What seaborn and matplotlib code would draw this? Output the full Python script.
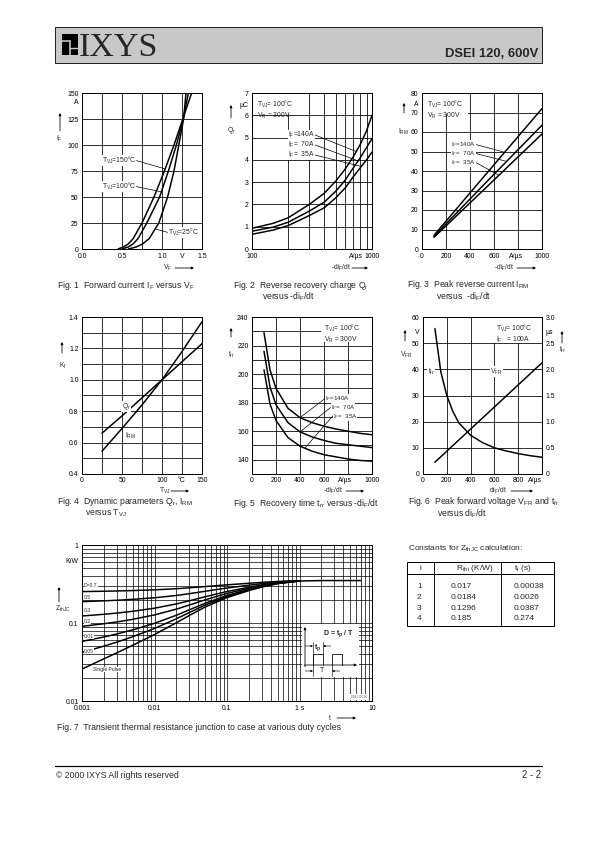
import numpy as np
import pandas as pd
import matplotlib
matplotlib.use("Agg")
import matplotlib.pyplot as plt
import seaborn as sns
from matplotlib.patches import Rectangle, FancyArrowPatch
from matplotlib.ticker import NullLocator

# ---------------- data ----------------
# Fig.1 forward current vs forward voltage
IF_LEVELS = [0, 2, 5, 10, 25, 50, 75, 100, 125, 150]
VF_150C = [0.45, 0.52, 0.58, 0.64, 0.75, 0.90, 1.03, 1.15, 1.26, 1.37]
VF_100C = [0.50, 0.58, 0.64, 0.70, 0.81, 0.97, 1.08, 1.18, 1.265, 1.33]
VF_25C = [0.58, 0.68, 0.76, 0.84, 0.96, 1.07, 1.15, 1.21, 1.27, 1.30]

# Fig.2 reverse recovery charge
DIDT2 = [100, 150, 200, 300, 400, 500, 600, 700, 800, 900, 1000]
QR_140 = [0.93, 1.15, 1.40, 2.00, 2.50, 3.05, 3.60, 4.15, 4.70, 5.30, 6.00]
QR_70 = [0.80, 0.98, 1.20, 1.70, 2.10, 2.60, 3.10, 3.65, 4.10, 4.55, 4.95]
QR_35 = [0.66, 0.85, 1.05, 1.50, 1.85, 2.30, 2.75, 3.25, 3.65, 4.00, 4.35]

# Fig.3 peak reverse current
DIDT3 = [100, 500, 1000]
IRM_140 = [7.0, 36.0, 72.0]
IRM_70 = [6.5, 32.0, 63.5]
IRM_35 = [6.0, 29.5, 59.0]

# Fig.4 dynamic parameters vs junction temperature
TVJ = [25, 50, 75, 100, 125, 150]
K_QR = [0.66, 0.77, 0.885, 1.0, 1.115, 1.23]
K_IRM = [0.545, 0.69, 0.84, 1.0, 1.18, 1.37]

# Fig.5 recovery time
DIDT5 = [100, 150, 200, 300, 400, 500, 600, 700, 800, 900, 1000]
TRR_140 = [229, 203, 190, 176, 169.5, 166, 163.5, 161.5, 160, 158.5, 157.5]
TRR_70 = [216, 191, 178.5, 166, 159.5, 156, 153.5, 151.5, 150.5, 149.5, 148.5]
TRR_35 = [203, 179, 167.5, 155.5, 149.5, 146, 143.5, 142, 140.5, 139.5, 139]

# Fig.6 peak forward voltage and forward recovery time
DIDT6_VFR = [100, 1000]
VFR = [4.5, 42.5]
DIDT6_TFR = [100, 150, 200, 250, 300, 400, 500, 600, 700, 800, 900, 1000]
TFR = [2.78, 1.95, 1.50, 1.20, 0.98, 0.74, 0.60, 0.50, 0.44, 0.39, 0.35, 0.32]

# Fig.7 transient thermal impedance
T_PULSE = [0.001, 0.002, 0.003, 0.005, 0.01, 0.02, 0.03, 0.05, 0.1, 0.2, 0.3, 0.5, 1.0]
T_SINGLE = [0.001, 0.002, 0.003, 0.005, 0.01, 0.02, 0.03, 0.05, 0.1, 0.2, 0.3, 0.5, 1.0, 2.0, 4.0, 7.0]
Z_SINGLE = [0.0257, 0.0347, 0.0413, 0.0518, 0.0712, 0.1007, 0.1245, 0.1603, 0.2118, 0.2601, 0.2881, 0.3202, 0.3452, 0.35, 0.35, 0.35]
Z_D07 = [0.2527, 0.2554, 0.2574, 0.2605, 0.2664, 0.2752, 0.2824, 0.2931, 0.3085, 0.3230, 0.3314, 0.3411, 0.3486]
Z_D05 = [0.1879, 0.1924, 0.1957, 0.2009, 0.2106, 0.2254, 0.2373, 0.2552, 0.2809, 0.3051, 0.3191, 0.3351, 0.3476]
Z_D03 = [0.1230, 0.1293, 0.1339, 0.1413, 0.1548, 0.1755, 0.1922, 0.2172, 0.2533, 0.2871, 0.3067, 0.3291, 0.3466]
Z_D02 = [0.0906, 0.0978, 0.1030, 0.1114, 0.1270, 0.1506, 0.1696, 0.1982, 0.2394, 0.2781, 0.3005, 0.3262, 0.3462]
Z_D01 = [0.0581, 0.0662, 0.0722, 0.0816, 0.0991, 0.1256, 0.1471, 0.1793, 0.2256, 0.2691, 0.2943, 0.3232, 0.3457]
Z_D005 = [0.0419, 0.0505, 0.0567, 0.0667, 0.0851, 0.1132, 0.1358, 0.1698, 0.2187, 0.2646, 0.2912, 0.3217, 0.3454]

# Table of constants
TBL_I = ["1", "2", "3", "4"]
TBL_R = ["0.017", "0.0184", "0.1296", "0.185"]
TBL_T = ["0.00038", "0.0026", "0.0387", "0.274"]

# ---------------- setup ----------------
W, H, DPI = 595, 842, 72
sns.set_theme(style="white")
plt.rcParams["font.family"] = ["Liberation Sans", "DejaVu Sans"]
plt.rcParams["mathtext.fontset"] = "custom"
plt.rcParams["mathtext.rm"] = "Liberation Sans"
plt.rcParams["mathtext.it"] = "Liberation Sans"
plt.rcParams["mathtext.bf"] = "Liberation Sans:bold"
plt.rcParams["mathtext.default"] = "regular"
plt.rcParams["axes.axisbelow"] = True

fig = plt.figure(figsize=(W / DPI, H / DPI), dpi=DPI)
fig.patch.set_facecolor("white")

TICK = 6.9
TXT = 6.8
PTXT = 6.3
CAP = 8.6
TAB = 8.4
LW = 1.5


def fx(x):
    return x / W


def fy(y):
    return 1 - y / H


def add_ax(l, t, r, b):
    ax = fig.add_axes([fx(l), fy(b), (r - l) / W, (b - t) / H])
    ax.set_facecolor("white")
    for s in ax.spines.values():
        s.set_color("black")
        s.set_linewidth(1.0)
    return ax


def finish(ax):
    ax.tick_params(which="both", length=0, labelsize=TICK, pad=3.5, colors="black")
    ax.grid(True, which="major", color="black", linewidth=0.8)
    ax.grid(False, which="minor")
    ax.set_xlabel("")
    ax.set_ylabel("")


def xt(ax, pos, labels, upos=None, ulab=None):
    ax.set_xticks(pos, labels=labels)
    if upos is None:
        ax.xaxis.set_minor_locator(NullLocator())
    else:
        ax.set_xticks([upos], labels=[ulab], minor=True)


def yt(ax, pos, labels, upos=None, ulab=None):
    ax.set_yticks(pos, labels=labels)
    if upos is None:
        ax.yaxis.set_minor_locator(NullLocator())
    else:
        ax.set_yticks([upos], labels=[ulab], minor=True)


def draw_curves(ax, xs, ys, names, lw=LW):
    frames = [pd.DataFrame({"x": x, "y": y, "s": n}) for x, y, n in zip(xs, ys, names)]
    df = pd.concat(frames, ignore_index=True)
    sns.lineplot(data=df, x="x", y="y", hue="s", palette=["black"] * len(names),
                 estimator=None, sort=False, legend=False, linewidth=lw, ax=ax)


def ftext(x, y, s, **kw):
    kw.setdefault("fontsize", TXT)
    kw.setdefault("va", "center")
    fig.text(fx(x), fy(y), s, **kw)


def farrow(x0, y0, x1, y1, lw=0.8, ms=5):
    fig.add_artist(FancyArrowPatch((fx(x0), fy(y0)), (fx(x1), fy(y1)), transform=fig.transFigure,
                                   arrowstyle="-|>", mutation_scale=ms, lw=lw, color="black",
                                   shrinkA=0, shrinkB=0))


def whitebox(ax, l, t, r, b, L, T, R, B):
    ax.add_patch(Rectangle(((l - L) / (R - L), (B - b) / (B - T)), (r - l) / (R - L), (b - t) / (B - T),
                           transform=ax.transAxes, facecolor="white", edgecolor="none", zorder=1))


def ptr(ax, text, xy, xytext, ha="left", rel=(1, 0.5), size=TXT):
    ax.annotate(text, xy=xy, xytext=xytext, fontsize=size, ha=ha, va="center", zorder=4,
                bbox=dict(facecolor="white", edgecolor="none", pad=0.0),
                arrowprops=dict(arrowstyle="-", lw=0.7, color="black", shrinkA=0, shrinkB=0, relpos=rel))


WB = dict(facecolor="white", edgecolor="none", pad=0.5)

# ---------------- Fig.1 ----------------
A1 = (82, 93, 202, 249)
ax1 = add_ax(*A1)
draw_curves(ax1, [VF_150C, VF_100C, VF_25C], [IF_LEVELS] * 3, ["150", "100", "25"])
ax1.set_xlim(0, 1.5)
ax1.set_ylim(0, 150)
xt(ax1, [0, 0.25, 0.5, 0.75, 1.0, 1.25, 1.5], ["0.0", "", "0.5", "", "1.0", "V", "1.5"])
yt(ax1, [0, 25, 50, 75, 100, 125, 150], ["0", "25", "50", "75", "100", "125", "150"], 141.5, "A")
finish(ax1)
ptr(ax1, "T$_{VJ}$=150°C", (1.04, 77), (0.25, 85))
ptr(ax1, "T$_{VJ}$=100°C", (0.99, 55), (0.25, 60))
ptr(ax1, "T$_{VJ}$=25°C", (0.93, 19), (1.07, 16), rel=(0, 0.5))
ftext(56, 139, "I$_F$")
farrow(60, 131, 60, 113)
ftext(163, 268, "V$_F$")
farrow(175, 268, 194, 268)
ftext(57, 285, "Fig. 1  Forward current I$_F$ versus V$_F$", fontsize=CAP)

# ---------------- Fig.2 ----------------
A2 = (252, 93, 372, 249)
ax2 = add_ax(*A2)
draw_curves(ax2, [DIDT2] * 3, [QR_140, QR_70, QR_35], ["140", "70", "35"])
ax2.set_xscale("log")
ax2.set_xlim(100, 1000)
ax2.set_ylim(0, 7)
xt(ax2, [100, 200, 300, 400, 500, 600, 700, 800, 900, 1000],
   ["100", "", "", "", "", "", "", "", "", "1000"], 740, "A/µs")
yt(ax2, [0, 1, 2, 3, 4, 5, 6, 7], ["0", "1", "2", "3", "4", "5", "6", "7"], 6.5, "µC")
finish(ax2)
whitebox(ax2, 252, 93, 296, 114, *A2)
ax2.text(0.04, 0.965, "T$_{VJ}$= 100°C\nV$_R$ = 300V", transform=ax2.transAxes, fontsize=TXT,
         va="top", ha="left", linespacing=1.1, zorder=4)
ptr(ax2, "I$_F$=140A", (740, 4.37), (200, 5.12))
ptr(ax2, "I$_F$=  70A", (770, 3.95), (200, 4.67))
ptr(ax2, "I$_F$=  35A", (820, 3.70), (200, 4.22))
ftext(227, 130, "Q$_r$")
farrow(231, 118, 231, 105)
ftext(331, 268, "-di$_F$/dt")
farrow(352, 268, 368, 268)
ftext(233, 285, "Fig. 2  Reverse recovery charge Q$_r$", fontsize=CAP)
ftext(262, 297, "versus -di$_F$/dt", fontsize=CAP)

# ---------------- Fig.3 ----------------
A3 = (422, 93, 542, 249)
ax3 = add_ax(*A3)
draw_curves(ax3, [DIDT3] * 3, [IRM_140, IRM_70, IRM_35], ["140", "70", "35"])
ax3.set_xlim(0, 1000)
ax3.set_ylim(0, 80)
xt(ax3, [0, 200, 400, 600, 800, 1000], ["0", "200", "400", "600", "", "1000"], 783, "A/µs")
yt(ax3, list(range(0, 81, 10)), [str(v) for v in range(0, 81, 10)], 74.7, "A")
finish(ax3)
whitebox(ax3, 422, 93, 468, 114, *A3)
ax3.text(0.04, 0.965, "T$_{VJ}$= 100°C\nV$_R$ = 300V", transform=ax3.transAxes, fontsize=TXT,
         va="top", ha="left", linespacing=1.1, zorder=4)
ptr(ax3, "I$_F$=140A", (690, 49.6), (240, 53.6), size=PTXT)
ptr(ax3, "I$_F$=  70A", (706, 44.9), (240, 49.0), size=PTXT)
ptr(ax3, "I$_F$=  35A", (640, 37.8), (240, 44.4), size=PTXT)
ftext(398, 132, "I$_{RM}$")
farrow(404, 113, 404, 103)
ftext(494, 268, "-di$_F$/dt")
farrow(517, 268, 536, 268)
ftext(407, 284.5, "Fig. 3  Peak reverse current I$_{RM}$", fontsize=CAP)
ftext(436, 297, "versus  -di$_F$/dt", fontsize=CAP)

# ---------------- Fig.4 ----------------
A4 = (82, 317, 202, 474)
ax4 = add_ax(*A4)
draw_curves(ax4, [TVJ] * 2, [K_QR, K_IRM], ["Qr", "IRM"])
ax4.set_xlim(0, 150)
ax4.set_ylim(0.4, 1.4)
xt(ax4, [0, 25, 50, 75, 100, 125, 150], ["0", "", "50", "", "100", "°C", "150"])
yt(ax4, [0.4, 0.5, 0.6, 0.7, 0.8, 0.9, 1.0, 1.1, 1.2, 1.3, 1.4],
   ["0.4", "", "0.6", "", "0.8", "", "1.0", "", "1.2", "", "1.4"])
finish(ax4)
ax4.text(55, 0.83, "Q$_r$", fontsize=TXT, ha="center", va="center", bbox=WB, zorder=4)
ax4.text(60, 0.64, "I$_{RM}$", fontsize=TXT, ha="center", va="center", bbox=WB, zorder=4)
ftext(59, 366, "K$_f$")
farrow(62, 353, 62, 342)
ftext(159, 491, "T$_{VJ}$")
farrow(171, 491, 189, 491)
ftext(57, 502, "Fig. 4  Dynamic parameters Q$_r$, I$_{RM}$", fontsize=CAP)
ftext(85, 513.5, "versus T$_{VJ}$", fontsize=CAP)

# ---------------- Fig.5 ----------------
A5 = (252, 317, 372, 474)
ax5 = add_ax(*A5)
draw_curves(ax5, [DIDT5] * 3, [TRR_140, TRR_70, TRR_35], ["140", "70", "35"])
ax5.set_xlim(0, 1000)
ax5.set_ylim(130, 240)
xt(ax5, [0, 200, 400, 600, 800, 1000], ["0", "200", "400", "600", "", "1000"], 775, "A/µs")
yt(ax5, list(range(130, 241, 10)),
   ["", "140", "", "160", "", "180", "", "200", "", "220", "", "240"], 230, "ns")
finish(ax5)
whitebox(ax5, 321, 317, 372, 342, *A5)
ax5.text(0.6, 0.96, "T$_{VJ}$= 100°C\nV$_R$ = 300V", transform=ax5.transAxes, fontsize=TXT,
         va="top", ha="left", linespacing=1.1, zorder=4)
ptr(ax5, "I$_F$=140A", (400, 169.5), (605, 182.6), rel=(0, 0.5), size=PTXT)
ptr(ax5, "I$_F$=  70A", (400, 159.5), (655, 176.6), rel=(0, 0.5), size=PTXT)
ptr(ax5, "I$_F$=  35A", (440, 148.1), (672, 170.6), rel=(0, 0.5), size=PTXT)
ftext(228, 355, "t$_{rr}$")
farrow(231, 337, 231, 328)
ftext(323, 491, "-di$_F$/dt")
farrow(346, 491, 364, 491)
ftext(233, 503, "Fig. 5  Recovery time t$_{rr}$ versus -di$_F$/dt", fontsize=CAP)

# ---------------- Fig.6 ----------------
A6 = (423, 317, 542, 474)
ax6 = add_ax(*A6)
draw_curves(ax6, [DIDT6_VFR], [VFR], ["VFR"])
ax6.set_xlim(0, 1000)
ax6.set_ylim(0, 60)
xt(ax6, [0, 200, 400, 600, 800, 1000], ["0", "200", "400", "600", "800", ""], 945, "A/µs")
yt(ax6, list(range(0, 61, 10)), [str(v) for v in range(0, 61, 10)], 54.4, "V")
finish(ax6)
ax6r = ax6.twinx()
draw_curves(ax6r, [DIDT6_TFR], [TFR], ["tfr"])
ax6r.set_xlim(0, 1000)
ax6r.set_ylim(0, 3.0)
yt(ax6r, [0, 0.5, 1.0, 1.5, 2.0, 2.5, 3.0], ["0", "0.5", "1.0", "1.5", "2.0", "2.5", "3.0"], 2.72, "µs")
ax6r.tick_params(which="both", length=0, labelsize=TICK, pad=3.5, colors="black")
ax6r.set_ylabel("")
ax6r.grid(False)
for s in ax6r.spines.values():
    s.set_color("black")
    s.set_linewidth(1.0)
whitebox(ax6, 494, 317, 542, 343, *A6)
ax6.text(0.61, 0.96, "T$_{VJ}$= 100°C\nI$_F$   = 100A", transform=ax6.transAxes, fontsize=TXT,
         va="top", ha="left", linespacing=1.1, zorder=4)
ax6.text(70, 39.2, "t$_{fr}$", fontsize=TXT, ha="center", va="center", bbox=WB, zorder=4)
ax6.text(616, 39.2, "V$_{FR}$", fontsize=TXT, ha="center", va="center", bbox=WB, zorder=4)
ftext(400, 355, "V$_{FR}$")
farrow(405, 341, 405, 330)
ftext(559, 350, "t$_{fr}$")
farrow(562, 343, 562, 331)
ftext(489, 491, "di$_F$/dt")
farrow(511, 491, 533, 491)
ftext(408, 502, "Fig. 6  Peak forward voltage V$_{FR}$ and t$_{fr}$", fontsize=CAP)
ftext(437, 513.5, "versus di$_F$/dt", fontsize=CAP)

# ---------------- Fig.7 ----------------
A7 = (82, 545, 372, 701)
ax7 = add_ax(*A7)
draw_curves(ax7, [T_PULSE] * 6 + [T_SINGLE],
            [Z_D07, Z_D05, Z_D03, Z_D02, Z_D01, Z_D005, Z_SINGLE],
            ["0.7", "0.5", "0.3", "0.2", "0.1", "0.05", "single"])
ax7.set_xscale("log")
ax7.set_yscale("log")
ax7.set_xlim(0.001, 10)
ax7.set_ylim(0.01, 1)
xpos, xlab = [], []
for e, name in zip([-3, -2, -1, 0], ["0.001", "0.01", "0.1", "1 s"]):
    for k in range(1, 10):
        xpos.append(k * 10.0 ** e)
        xlab.append(name if k == 1 else "")
xpos.append(10.0)
xlab.append("10")
ypos, ylab = [], []
for e, name in zip([-2, -1], ["0.01", "0.1"]):
    for k in range(1, 10):
        ypos.append(k * 10.0 ** e)
        ylab.append(name if k == 1 else "")
ypos.append(1.0)
ylab.append("1")
xt(ax7, xpos, xlab)
yt(ax7, ypos, ylab, 0.64, "K/W")
finish(ax7)
ax7.grid(True, which="major", color="black", linewidth=0.7)
LB = dict(facecolor="white", edgecolor="none", pad=0.2)
for txt, yv in [("D=0.7", 0.300), ("0.5", 0.215), ("0.3", 0.143), ("0.2", 0.104),
                ("0.01", 0.068), ("0.05", 0.0437)]:
    ax7.text(0.00106, yv, txt, fontsize=5.0, ha="left", va="center", bbox=LB, zorder=4)
ax7.text(0.00142, 0.0255, "Single Pulse", fontsize=5.0, ha="left", va="center", bbox=LB, zorder=4)
ftext(55, 609, "Z$_{thJC}$")
farrow(59, 602, 59, 587)
ftext(329, 718, "t")
farrow(337, 718, 356, 718)
ftext(57, 728, "Fig. 7  Transient thermal resistance junction to case at various duty cycles", fontsize=CAP)

# ---------------- overlay: header, inset, table, footer ----------------
ov = fig.add_axes([0, 0, 1, 1], zorder=10)
ov.set_xlim(0, W)
ov.set_ylim(H, 0)
ov.axis("off")

# header
HDR = "#c8c8c8"
ov.add_patch(Rectangle((55, 27), 487, 36, facecolor=HDR, edgecolor="#222222", lw=1.0))
ov.add_patch(Rectangle((62, 34), 16, 21, facecolor="black", edgecolor="none"))
ov.plot([62, 70], [41, 41], color=HDR, lw=1.6)
ov.plot([70, 70], [41, 55], color=HDR, lw=1.6)
ov.plot([70, 78], [48, 48], color=HDR, lw=1.4)
ov.text(78.5, 55.5, "IXYS", family=["Liberation Serif", "DejaVu Serif"], fontsize=34, va="baseline", ha="left")
ov.text(538, 57, "DSEI 120, 600V", fontsize=13, fontweight="bold", ha="right", va="baseline")

# inset in Fig.7
ov.add_patch(Rectangle((302, 624), 57, 53, facecolor="white", edgecolor="none"))
ov.annotate("", xy=(305, 627), xytext=(305, 667),
            arrowprops=dict(arrowstyle="-|>", lw=0.8, color="black", mutation_scale=5, shrinkA=0, shrinkB=0))
ov.annotate("", xy=(357, 665), xytext=(304, 665),
            arrowprops=dict(arrowstyle="-|>", lw=0.8, color="black", mutation_scale=5, shrinkA=0, shrinkB=0))
ov.plot([313, 313, 323, 323], [665, 654, 654, 665], color="black", lw=0.8)
ov.plot([332, 332, 342, 342], [665, 654, 654, 665], color="black", lw=0.8)
ov.plot([313, 313], [642, 676], color="black", lw=0.6)
ov.plot([323, 323], [642, 654], color="black", lw=0.6)
ov.plot([332, 332], [665, 676], color="black", lw=0.6)
for a, b, yy in [(305, 313, 646), (331, 323, 646), (305, 313, 671), (340, 332, 671)]:
    ov.annotate("", xy=(b, yy), xytext=(a, yy),
                arrowprops=dict(arrowstyle="-|>", lw=0.6, color="black", mutation_scale=4, shrinkA=0, shrinkB=0))
ov.text(338, 634, "D = t$_p$ / T", fontsize=7, fontweight="bold", ha="center", va="center")
ov.text(318, 648, "t$_p$", fontsize=7, fontweight="bold", ha="center", va="center")
ov.text(322.5, 671, "T", fontsize=7, ha="center", va="center")
ov.text(367, 697, "DSEI 120-06", fontsize=2.8, color="#555555", ha="right", va="center",
        bbox=dict(facecolor="white", edgecolor="none", pad=0.5))

# table
ov.text(408, 549, "Constants for Z$_{thJC}$ calculation:", fontsize=TAB, va="center", ha="left")
ov.add_patch(Rectangle((407, 562), 147, 64, facecolor="white", edgecolor="black", lw=1.0))
ov.plot([407, 554], [574, 574], color="black", lw=1.0)
ov.plot([434, 434], [562, 626], color="black", lw=0.9)
ov.plot([501, 501], [562, 626], color="black", lw=0.9)
ov.text(420, 568, "i", fontsize=TAB, ha="center", va="center")
ov.text(456, 568, "R$_{thi}$ (K/W)", fontsize=TAB, ha="left", va="center")
ov.text(514, 568, "t$_i$ (s)", fontsize=TAB, ha="left", va="center")
for k, (a, b, c) in enumerate(zip(TBL_I, TBL_R, TBL_T)):
    yy = 587 + k * 10.5
    ov.text(417, yy, a, fontsize=TAB, ha="left", va="center")
    ov.text(451, yy, b, fontsize=TAB, ha="left", va="center")
    ov.text(514, yy, c, fontsize=TAB, ha="left", va="center")

# footer
ov.plot([55, 542], [766, 766], color="black", lw=1.2)
ov.text(56, 775, "© 2000 IXYS All rights reserved", fontsize=8.8, ha="left", va="center")
ov.text(541, 775, "2 - 2", fontsize=9.5, ha="right", va="center")

fig.savefig("out.png", dpi=DPI, facecolor="white")
